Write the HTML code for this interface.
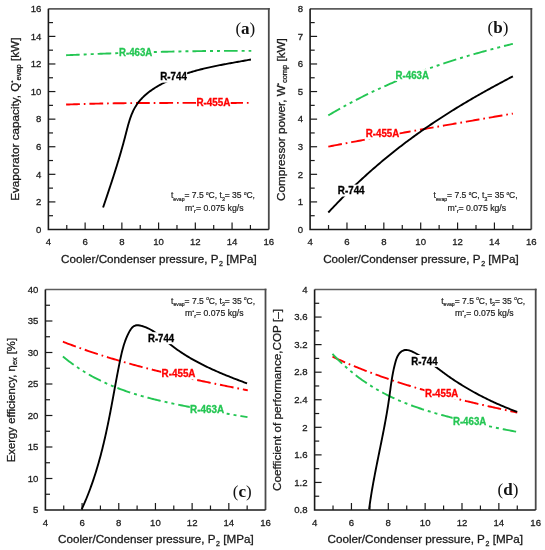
<!DOCTYPE html>
<html><head><meta charset="utf-8"><style>
html,body{margin:0;padding:0;background:#fff;}
body{width:545px;height:550px;overflow:hidden;}
svg{display:block;}
svg{will-change:transform;}
</style></head><body>
<svg width="545" height="550" viewBox="0 0 545 550">
<style>.t{stroke:#1a1a1a;stroke-width:0.28px;} .a{stroke:#222;stroke-width:0.2px;}</style>
<rect width="545" height="550" fill="#fff"/>
<line x1="48.40" y1="8.80" x2="269.70" y2="8.80" stroke="#5c5c5c" stroke-width="1.7"/>
<line x1="268.80" y1="8.00" x2="268.80" y2="229.50" stroke="#4a4a4a" stroke-width="1.8"/>
<path d="M48.40 8.80 V229.50 H268.80" fill="none" stroke="#1a1a1a" stroke-width="1.6"/>
<text transform="translate(48.40 245.30) scale(0.97 1)" text-anchor="middle" font-size="9.9" class="t" fill="#1a1a1a" font-family="'Liberation Sans', sans-serif">4</text>
<line x1="66.77" y1="229.50" x2="66.77" y2="225.00" stroke="#1a1a1a" stroke-width="1.2"/>
<line x1="85.13" y1="229.50" x2="85.13" y2="222.50" stroke="#1a1a1a" stroke-width="1.2"/>
<text transform="translate(85.13 245.30) scale(0.97 1)" text-anchor="middle" font-size="9.9" class="t" fill="#1a1a1a" font-family="'Liberation Sans', sans-serif">6</text>
<line x1="103.50" y1="229.50" x2="103.50" y2="225.00" stroke="#1a1a1a" stroke-width="1.2"/>
<line x1="121.87" y1="229.50" x2="121.87" y2="222.50" stroke="#1a1a1a" stroke-width="1.2"/>
<text transform="translate(121.87 245.30) scale(0.97 1)" text-anchor="middle" font-size="9.9" class="t" fill="#1a1a1a" font-family="'Liberation Sans', sans-serif">8</text>
<line x1="140.23" y1="229.50" x2="140.23" y2="225.00" stroke="#1a1a1a" stroke-width="1.2"/>
<line x1="158.60" y1="229.50" x2="158.60" y2="222.50" stroke="#1a1a1a" stroke-width="1.2"/>
<text transform="translate(158.60 245.30) scale(0.97 1)" text-anchor="middle" font-size="9.9" class="t" fill="#1a1a1a" font-family="'Liberation Sans', sans-serif">10</text>
<line x1="176.97" y1="229.50" x2="176.97" y2="225.00" stroke="#1a1a1a" stroke-width="1.2"/>
<line x1="195.33" y1="229.50" x2="195.33" y2="222.50" stroke="#1a1a1a" stroke-width="1.2"/>
<text transform="translate(195.33 245.30) scale(0.97 1)" text-anchor="middle" font-size="9.9" class="t" fill="#1a1a1a" font-family="'Liberation Sans', sans-serif">12</text>
<line x1="213.70" y1="229.50" x2="213.70" y2="225.00" stroke="#1a1a1a" stroke-width="1.2"/>
<line x1="232.07" y1="229.50" x2="232.07" y2="222.50" stroke="#1a1a1a" stroke-width="1.2"/>
<text transform="translate(232.07 245.30) scale(0.97 1)" text-anchor="middle" font-size="9.9" class="t" fill="#1a1a1a" font-family="'Liberation Sans', sans-serif">14</text>
<line x1="250.43" y1="229.50" x2="250.43" y2="225.00" stroke="#1a1a1a" stroke-width="1.2"/>
<text transform="translate(268.80 245.30) scale(0.97 1)" text-anchor="middle" font-size="9.9" class="t" fill="#1a1a1a" font-family="'Liberation Sans', sans-serif">16</text>
<text transform="translate(41.40 232.70) scale(0.97 1)" text-anchor="end" font-size="9.9" class="t" fill="#1a1a1a" font-family="'Liberation Sans', sans-serif">0</text>
<line x1="48.40" y1="215.71" x2="53.00" y2="215.71" stroke="#1a1a1a" stroke-width="1.2"/>
<line x1="48.40" y1="201.91" x2="55.40" y2="201.91" stroke="#1a1a1a" stroke-width="1.2"/>
<text transform="translate(41.40 205.11) scale(0.97 1)" text-anchor="end" font-size="9.9" class="t" fill="#1a1a1a" font-family="'Liberation Sans', sans-serif">2</text>
<line x1="48.40" y1="188.12" x2="53.00" y2="188.12" stroke="#1a1a1a" stroke-width="1.2"/>
<line x1="48.40" y1="174.32" x2="55.40" y2="174.32" stroke="#1a1a1a" stroke-width="1.2"/>
<text transform="translate(41.40 177.52) scale(0.97 1)" text-anchor="end" font-size="9.9" class="t" fill="#1a1a1a" font-family="'Liberation Sans', sans-serif">4</text>
<line x1="48.40" y1="160.53" x2="53.00" y2="160.53" stroke="#1a1a1a" stroke-width="1.2"/>
<line x1="48.40" y1="146.74" x2="55.40" y2="146.74" stroke="#1a1a1a" stroke-width="1.2"/>
<text transform="translate(41.40 149.94) scale(0.97 1)" text-anchor="end" font-size="9.9" class="t" fill="#1a1a1a" font-family="'Liberation Sans', sans-serif">6</text>
<line x1="48.40" y1="132.94" x2="53.00" y2="132.94" stroke="#1a1a1a" stroke-width="1.2"/>
<line x1="48.40" y1="119.15" x2="55.40" y2="119.15" stroke="#1a1a1a" stroke-width="1.2"/>
<text transform="translate(41.40 122.35) scale(0.97 1)" text-anchor="end" font-size="9.9" class="t" fill="#1a1a1a" font-family="'Liberation Sans', sans-serif">8</text>
<line x1="48.40" y1="105.36" x2="53.00" y2="105.36" stroke="#1a1a1a" stroke-width="1.2"/>
<line x1="48.40" y1="91.56" x2="55.40" y2="91.56" stroke="#1a1a1a" stroke-width="1.2"/>
<text transform="translate(41.40 94.76) scale(0.97 1)" text-anchor="end" font-size="9.9" class="t" fill="#1a1a1a" font-family="'Liberation Sans', sans-serif">10</text>
<line x1="48.40" y1="77.77" x2="53.00" y2="77.77" stroke="#1a1a1a" stroke-width="1.2"/>
<line x1="48.40" y1="63.98" x2="55.40" y2="63.98" stroke="#1a1a1a" stroke-width="1.2"/>
<text transform="translate(41.40 67.18) scale(0.97 1)" text-anchor="end" font-size="9.9" class="t" fill="#1a1a1a" font-family="'Liberation Sans', sans-serif">12</text>
<line x1="48.40" y1="50.18" x2="53.00" y2="50.18" stroke="#1a1a1a" stroke-width="1.2"/>
<line x1="48.40" y1="36.39" x2="55.40" y2="36.39" stroke="#1a1a1a" stroke-width="1.2"/>
<text transform="translate(41.40 39.59) scale(0.97 1)" text-anchor="end" font-size="9.9" class="t" fill="#1a1a1a" font-family="'Liberation Sans', sans-serif">14</text>
<line x1="48.40" y1="22.59" x2="53.00" y2="22.59" stroke="#1a1a1a" stroke-width="1.2"/>
<text transform="translate(41.40 12.00) scale(0.97 1)" text-anchor="end" font-size="9.9" class="t" fill="#1a1a1a" font-family="'Liberation Sans', sans-serif">16</text>
<line x1="310.10" y1="8.80" x2="532.20" y2="8.80" stroke="#5c5c5c" stroke-width="1.7"/>
<line x1="531.30" y1="8.00" x2="531.30" y2="229.50" stroke="#4a4a4a" stroke-width="1.8"/>
<path d="M310.10 8.80 V229.50 H531.30" fill="none" stroke="#1a1a1a" stroke-width="1.6"/>
<text transform="translate(310.10 245.30) scale(0.97 1)" text-anchor="middle" font-size="9.9" class="t" fill="#1a1a1a" font-family="'Liberation Sans', sans-serif">4</text>
<line x1="328.53" y1="229.50" x2="328.53" y2="225.00" stroke="#1a1a1a" stroke-width="1.2"/>
<line x1="346.97" y1="229.50" x2="346.97" y2="222.50" stroke="#1a1a1a" stroke-width="1.2"/>
<text transform="translate(346.97 245.30) scale(0.97 1)" text-anchor="middle" font-size="9.9" class="t" fill="#1a1a1a" font-family="'Liberation Sans', sans-serif">6</text>
<line x1="365.40" y1="229.50" x2="365.40" y2="225.00" stroke="#1a1a1a" stroke-width="1.2"/>
<line x1="383.83" y1="229.50" x2="383.83" y2="222.50" stroke="#1a1a1a" stroke-width="1.2"/>
<text transform="translate(383.83 245.30) scale(0.97 1)" text-anchor="middle" font-size="9.9" class="t" fill="#1a1a1a" font-family="'Liberation Sans', sans-serif">8</text>
<line x1="402.27" y1="229.50" x2="402.27" y2="225.00" stroke="#1a1a1a" stroke-width="1.2"/>
<line x1="420.70" y1="229.50" x2="420.70" y2="222.50" stroke="#1a1a1a" stroke-width="1.2"/>
<text transform="translate(420.70 245.30) scale(0.97 1)" text-anchor="middle" font-size="9.9" class="t" fill="#1a1a1a" font-family="'Liberation Sans', sans-serif">10</text>
<line x1="439.13" y1="229.50" x2="439.13" y2="225.00" stroke="#1a1a1a" stroke-width="1.2"/>
<line x1="457.57" y1="229.50" x2="457.57" y2="222.50" stroke="#1a1a1a" stroke-width="1.2"/>
<text transform="translate(457.57 245.30) scale(0.97 1)" text-anchor="middle" font-size="9.9" class="t" fill="#1a1a1a" font-family="'Liberation Sans', sans-serif">12</text>
<line x1="476.00" y1="229.50" x2="476.00" y2="225.00" stroke="#1a1a1a" stroke-width="1.2"/>
<line x1="494.43" y1="229.50" x2="494.43" y2="222.50" stroke="#1a1a1a" stroke-width="1.2"/>
<text transform="translate(494.43 245.30) scale(0.97 1)" text-anchor="middle" font-size="9.9" class="t" fill="#1a1a1a" font-family="'Liberation Sans', sans-serif">14</text>
<line x1="512.87" y1="229.50" x2="512.87" y2="225.00" stroke="#1a1a1a" stroke-width="1.2"/>
<text transform="translate(531.30 245.30) scale(0.97 1)" text-anchor="middle" font-size="9.9" class="t" fill="#1a1a1a" font-family="'Liberation Sans', sans-serif">16</text>
<text transform="translate(303.10 232.70) scale(0.97 1)" text-anchor="end" font-size="9.9" class="t" fill="#1a1a1a" font-family="'Liberation Sans', sans-serif">0</text>
<line x1="310.10" y1="215.71" x2="314.70" y2="215.71" stroke="#1a1a1a" stroke-width="1.2"/>
<line x1="310.10" y1="201.91" x2="317.10" y2="201.91" stroke="#1a1a1a" stroke-width="1.2"/>
<text transform="translate(303.10 205.11) scale(0.97 1)" text-anchor="end" font-size="9.9" class="t" fill="#1a1a1a" font-family="'Liberation Sans', sans-serif">1</text>
<line x1="310.10" y1="188.12" x2="314.70" y2="188.12" stroke="#1a1a1a" stroke-width="1.2"/>
<line x1="310.10" y1="174.32" x2="317.10" y2="174.32" stroke="#1a1a1a" stroke-width="1.2"/>
<text transform="translate(303.10 177.52) scale(0.97 1)" text-anchor="end" font-size="9.9" class="t" fill="#1a1a1a" font-family="'Liberation Sans', sans-serif">2</text>
<line x1="310.10" y1="160.53" x2="314.70" y2="160.53" stroke="#1a1a1a" stroke-width="1.2"/>
<line x1="310.10" y1="146.74" x2="317.10" y2="146.74" stroke="#1a1a1a" stroke-width="1.2"/>
<text transform="translate(303.10 149.94) scale(0.97 1)" text-anchor="end" font-size="9.9" class="t" fill="#1a1a1a" font-family="'Liberation Sans', sans-serif">3</text>
<line x1="310.10" y1="132.94" x2="314.70" y2="132.94" stroke="#1a1a1a" stroke-width="1.2"/>
<line x1="310.10" y1="119.15" x2="317.10" y2="119.15" stroke="#1a1a1a" stroke-width="1.2"/>
<text transform="translate(303.10 122.35) scale(0.97 1)" text-anchor="end" font-size="9.9" class="t" fill="#1a1a1a" font-family="'Liberation Sans', sans-serif">4</text>
<line x1="310.10" y1="105.36" x2="314.70" y2="105.36" stroke="#1a1a1a" stroke-width="1.2"/>
<line x1="310.10" y1="91.56" x2="317.10" y2="91.56" stroke="#1a1a1a" stroke-width="1.2"/>
<text transform="translate(303.10 94.76) scale(0.97 1)" text-anchor="end" font-size="9.9" class="t" fill="#1a1a1a" font-family="'Liberation Sans', sans-serif">5</text>
<line x1="310.10" y1="77.77" x2="314.70" y2="77.77" stroke="#1a1a1a" stroke-width="1.2"/>
<line x1="310.10" y1="63.98" x2="317.10" y2="63.98" stroke="#1a1a1a" stroke-width="1.2"/>
<text transform="translate(303.10 67.18) scale(0.97 1)" text-anchor="end" font-size="9.9" class="t" fill="#1a1a1a" font-family="'Liberation Sans', sans-serif">6</text>
<line x1="310.10" y1="50.18" x2="314.70" y2="50.18" stroke="#1a1a1a" stroke-width="1.2"/>
<line x1="310.10" y1="36.39" x2="317.10" y2="36.39" stroke="#1a1a1a" stroke-width="1.2"/>
<text transform="translate(303.10 39.59) scale(0.97 1)" text-anchor="end" font-size="9.9" class="t" fill="#1a1a1a" font-family="'Liberation Sans', sans-serif">7</text>
<line x1="310.10" y1="22.59" x2="314.70" y2="22.59" stroke="#1a1a1a" stroke-width="1.2"/>
<text transform="translate(303.10 12.00) scale(0.97 1)" text-anchor="end" font-size="9.9" class="t" fill="#1a1a1a" font-family="'Liberation Sans', sans-serif">8</text>
<line x1="45.40" y1="289.50" x2="266.40" y2="289.50" stroke="#5c5c5c" stroke-width="1.7"/>
<line x1="265.50" y1="288.70" x2="265.50" y2="510.00" stroke="#4a4a4a" stroke-width="1.8"/>
<path d="M45.40 289.50 V510.00 H265.50" fill="none" stroke="#1a1a1a" stroke-width="1.6"/>
<text transform="translate(45.40 525.80) scale(0.97 1)" text-anchor="middle" font-size="9.9" class="t" fill="#1a1a1a" font-family="'Liberation Sans', sans-serif">4</text>
<line x1="63.74" y1="510.00" x2="63.74" y2="505.50" stroke="#1a1a1a" stroke-width="1.2"/>
<line x1="82.08" y1="510.00" x2="82.08" y2="503.00" stroke="#1a1a1a" stroke-width="1.2"/>
<text transform="translate(82.08 525.80) scale(0.97 1)" text-anchor="middle" font-size="9.9" class="t" fill="#1a1a1a" font-family="'Liberation Sans', sans-serif">6</text>
<line x1="100.42" y1="510.00" x2="100.42" y2="505.50" stroke="#1a1a1a" stroke-width="1.2"/>
<line x1="118.77" y1="510.00" x2="118.77" y2="503.00" stroke="#1a1a1a" stroke-width="1.2"/>
<text transform="translate(118.77 525.80) scale(0.97 1)" text-anchor="middle" font-size="9.9" class="t" fill="#1a1a1a" font-family="'Liberation Sans', sans-serif">8</text>
<line x1="137.11" y1="510.00" x2="137.11" y2="505.50" stroke="#1a1a1a" stroke-width="1.2"/>
<line x1="155.45" y1="510.00" x2="155.45" y2="503.00" stroke="#1a1a1a" stroke-width="1.2"/>
<text transform="translate(155.45 525.80) scale(0.97 1)" text-anchor="middle" font-size="9.9" class="t" fill="#1a1a1a" font-family="'Liberation Sans', sans-serif">10</text>
<line x1="173.79" y1="510.00" x2="173.79" y2="505.50" stroke="#1a1a1a" stroke-width="1.2"/>
<line x1="192.13" y1="510.00" x2="192.13" y2="503.00" stroke="#1a1a1a" stroke-width="1.2"/>
<text transform="translate(192.13 525.80) scale(0.97 1)" text-anchor="middle" font-size="9.9" class="t" fill="#1a1a1a" font-family="'Liberation Sans', sans-serif">12</text>
<line x1="210.47" y1="510.00" x2="210.47" y2="505.50" stroke="#1a1a1a" stroke-width="1.2"/>
<line x1="228.82" y1="510.00" x2="228.82" y2="503.00" stroke="#1a1a1a" stroke-width="1.2"/>
<text transform="translate(228.82 525.80) scale(0.97 1)" text-anchor="middle" font-size="9.9" class="t" fill="#1a1a1a" font-family="'Liberation Sans', sans-serif">14</text>
<line x1="247.16" y1="510.00" x2="247.16" y2="505.50" stroke="#1a1a1a" stroke-width="1.2"/>
<text transform="translate(265.50 525.80) scale(0.97 1)" text-anchor="middle" font-size="9.9" class="t" fill="#1a1a1a" font-family="'Liberation Sans', sans-serif">16</text>
<text transform="translate(38.40 513.20) scale(0.97 1)" text-anchor="end" font-size="9.9" class="t" fill="#1a1a1a" font-family="'Liberation Sans', sans-serif">5</text>
<line x1="45.40" y1="494.25" x2="50.00" y2="494.25" stroke="#1a1a1a" stroke-width="1.2"/>
<line x1="45.40" y1="478.50" x2="52.40" y2="478.50" stroke="#1a1a1a" stroke-width="1.2"/>
<text transform="translate(38.40 481.70) scale(0.97 1)" text-anchor="end" font-size="9.9" class="t" fill="#1a1a1a" font-family="'Liberation Sans', sans-serif">10</text>
<line x1="45.40" y1="462.75" x2="50.00" y2="462.75" stroke="#1a1a1a" stroke-width="1.2"/>
<line x1="45.40" y1="447.00" x2="52.40" y2="447.00" stroke="#1a1a1a" stroke-width="1.2"/>
<text transform="translate(38.40 450.20) scale(0.97 1)" text-anchor="end" font-size="9.9" class="t" fill="#1a1a1a" font-family="'Liberation Sans', sans-serif">15</text>
<line x1="45.40" y1="431.25" x2="50.00" y2="431.25" stroke="#1a1a1a" stroke-width="1.2"/>
<line x1="45.40" y1="415.50" x2="52.40" y2="415.50" stroke="#1a1a1a" stroke-width="1.2"/>
<text transform="translate(38.40 418.70) scale(0.97 1)" text-anchor="end" font-size="9.9" class="t" fill="#1a1a1a" font-family="'Liberation Sans', sans-serif">20</text>
<line x1="45.40" y1="399.75" x2="50.00" y2="399.75" stroke="#1a1a1a" stroke-width="1.2"/>
<line x1="45.40" y1="384.00" x2="52.40" y2="384.00" stroke="#1a1a1a" stroke-width="1.2"/>
<text transform="translate(38.40 387.20) scale(0.97 1)" text-anchor="end" font-size="9.9" class="t" fill="#1a1a1a" font-family="'Liberation Sans', sans-serif">25</text>
<line x1="45.40" y1="368.25" x2="50.00" y2="368.25" stroke="#1a1a1a" stroke-width="1.2"/>
<line x1="45.40" y1="352.50" x2="52.40" y2="352.50" stroke="#1a1a1a" stroke-width="1.2"/>
<text transform="translate(38.40 355.70) scale(0.97 1)" text-anchor="end" font-size="9.9" class="t" fill="#1a1a1a" font-family="'Liberation Sans', sans-serif">30</text>
<line x1="45.40" y1="336.75" x2="50.00" y2="336.75" stroke="#1a1a1a" stroke-width="1.2"/>
<line x1="45.40" y1="321.00" x2="52.40" y2="321.00" stroke="#1a1a1a" stroke-width="1.2"/>
<text transform="translate(38.40 324.20) scale(0.97 1)" text-anchor="end" font-size="9.9" class="t" fill="#1a1a1a" font-family="'Liberation Sans', sans-serif">35</text>
<line x1="45.40" y1="305.25" x2="50.00" y2="305.25" stroke="#1a1a1a" stroke-width="1.2"/>
<text transform="translate(38.40 292.70) scale(0.97 1)" text-anchor="end" font-size="9.9" class="t" fill="#1a1a1a" font-family="'Liberation Sans', sans-serif">40</text>
<line x1="314.60" y1="289.50" x2="536.60" y2="289.50" stroke="#5c5c5c" stroke-width="1.7"/>
<line x1="535.70" y1="288.70" x2="535.70" y2="510.00" stroke="#4a4a4a" stroke-width="1.8"/>
<path d="M314.60 289.50 V510.00 H535.70" fill="none" stroke="#1a1a1a" stroke-width="1.6"/>
<text transform="translate(314.60 525.80) scale(0.97 1)" text-anchor="middle" font-size="9.9" class="t" fill="#1a1a1a" font-family="'Liberation Sans', sans-serif">4</text>
<line x1="333.03" y1="510.00" x2="333.03" y2="505.50" stroke="#1a1a1a" stroke-width="1.2"/>
<line x1="351.45" y1="510.00" x2="351.45" y2="503.00" stroke="#1a1a1a" stroke-width="1.2"/>
<text transform="translate(351.45 525.80) scale(0.97 1)" text-anchor="middle" font-size="9.9" class="t" fill="#1a1a1a" font-family="'Liberation Sans', sans-serif">6</text>
<line x1="369.88" y1="510.00" x2="369.88" y2="505.50" stroke="#1a1a1a" stroke-width="1.2"/>
<line x1="388.30" y1="510.00" x2="388.30" y2="503.00" stroke="#1a1a1a" stroke-width="1.2"/>
<text transform="translate(388.30 525.80) scale(0.97 1)" text-anchor="middle" font-size="9.9" class="t" fill="#1a1a1a" font-family="'Liberation Sans', sans-serif">8</text>
<line x1="406.73" y1="510.00" x2="406.73" y2="505.50" stroke="#1a1a1a" stroke-width="1.2"/>
<line x1="425.15" y1="510.00" x2="425.15" y2="503.00" stroke="#1a1a1a" stroke-width="1.2"/>
<text transform="translate(425.15 525.80) scale(0.97 1)" text-anchor="middle" font-size="9.9" class="t" fill="#1a1a1a" font-family="'Liberation Sans', sans-serif">10</text>
<line x1="443.58" y1="510.00" x2="443.58" y2="505.50" stroke="#1a1a1a" stroke-width="1.2"/>
<line x1="462.00" y1="510.00" x2="462.00" y2="503.00" stroke="#1a1a1a" stroke-width="1.2"/>
<text transform="translate(462.00 525.80) scale(0.97 1)" text-anchor="middle" font-size="9.9" class="t" fill="#1a1a1a" font-family="'Liberation Sans', sans-serif">12</text>
<line x1="480.43" y1="510.00" x2="480.43" y2="505.50" stroke="#1a1a1a" stroke-width="1.2"/>
<line x1="498.85" y1="510.00" x2="498.85" y2="503.00" stroke="#1a1a1a" stroke-width="1.2"/>
<text transform="translate(498.85 525.80) scale(0.97 1)" text-anchor="middle" font-size="9.9" class="t" fill="#1a1a1a" font-family="'Liberation Sans', sans-serif">14</text>
<line x1="517.28" y1="510.00" x2="517.28" y2="505.50" stroke="#1a1a1a" stroke-width="1.2"/>
<text transform="translate(535.70 525.80) scale(0.97 1)" text-anchor="middle" font-size="9.9" class="t" fill="#1a1a1a" font-family="'Liberation Sans', sans-serif">16</text>
<text transform="translate(307.60 513.20) scale(0.97 1)" text-anchor="end" font-size="9.9" class="t" fill="#1a1a1a" font-family="'Liberation Sans', sans-serif">0.8</text>
<line x1="314.60" y1="496.22" x2="319.20" y2="496.22" stroke="#1a1a1a" stroke-width="1.2"/>
<line x1="314.60" y1="482.44" x2="321.60" y2="482.44" stroke="#1a1a1a" stroke-width="1.2"/>
<text transform="translate(307.60 485.64) scale(0.97 1)" text-anchor="end" font-size="9.9" class="t" fill="#1a1a1a" font-family="'Liberation Sans', sans-serif">1.2</text>
<line x1="314.60" y1="468.66" x2="319.20" y2="468.66" stroke="#1a1a1a" stroke-width="1.2"/>
<line x1="314.60" y1="454.88" x2="321.60" y2="454.88" stroke="#1a1a1a" stroke-width="1.2"/>
<text transform="translate(307.60 458.07) scale(0.97 1)" text-anchor="end" font-size="9.9" class="t" fill="#1a1a1a" font-family="'Liberation Sans', sans-serif">1.6</text>
<line x1="314.60" y1="441.09" x2="319.20" y2="441.09" stroke="#1a1a1a" stroke-width="1.2"/>
<line x1="314.60" y1="427.31" x2="321.60" y2="427.31" stroke="#1a1a1a" stroke-width="1.2"/>
<text transform="translate(307.60 430.51) scale(0.97 1)" text-anchor="end" font-size="9.9" class="t" fill="#1a1a1a" font-family="'Liberation Sans', sans-serif">2</text>
<line x1="314.60" y1="413.53" x2="319.20" y2="413.53" stroke="#1a1a1a" stroke-width="1.2"/>
<line x1="314.60" y1="399.75" x2="321.60" y2="399.75" stroke="#1a1a1a" stroke-width="1.2"/>
<text transform="translate(307.60 402.95) scale(0.97 1)" text-anchor="end" font-size="9.9" class="t" fill="#1a1a1a" font-family="'Liberation Sans', sans-serif">2.4</text>
<line x1="314.60" y1="385.97" x2="319.20" y2="385.97" stroke="#1a1a1a" stroke-width="1.2"/>
<line x1="314.60" y1="372.19" x2="321.60" y2="372.19" stroke="#1a1a1a" stroke-width="1.2"/>
<text transform="translate(307.60 375.39) scale(0.97 1)" text-anchor="end" font-size="9.9" class="t" fill="#1a1a1a" font-family="'Liberation Sans', sans-serif">2.8</text>
<line x1="314.60" y1="358.41" x2="319.20" y2="358.41" stroke="#1a1a1a" stroke-width="1.2"/>
<line x1="314.60" y1="344.62" x2="321.60" y2="344.62" stroke="#1a1a1a" stroke-width="1.2"/>
<text transform="translate(307.60 347.82) scale(0.97 1)" text-anchor="end" font-size="9.9" class="t" fill="#1a1a1a" font-family="'Liberation Sans', sans-serif">3.2</text>
<line x1="314.60" y1="330.84" x2="319.20" y2="330.84" stroke="#1a1a1a" stroke-width="1.2"/>
<line x1="314.60" y1="317.06" x2="321.60" y2="317.06" stroke="#1a1a1a" stroke-width="1.2"/>
<text transform="translate(307.60 320.26) scale(0.97 1)" text-anchor="end" font-size="9.9" class="t" fill="#1a1a1a" font-family="'Liberation Sans', sans-serif">3.6</text>
<line x1="314.60" y1="303.28" x2="319.20" y2="303.28" stroke="#1a1a1a" stroke-width="1.2"/>
<text transform="translate(307.60 292.70) scale(0.97 1)" text-anchor="end" font-size="9.9" class="t" fill="#1a1a1a" font-family="'Liberation Sans', sans-serif">4</text>
<path d="M66.10 55.24 L67.66 55.17 L69.21 55.10 L70.77 55.03 L72.33 54.96 L73.88 54.90 L75.44 54.83 L76.99 54.76 L78.55 54.69 L80.11 54.62 L81.66 54.56 L83.22 54.49 L84.78 54.43 L86.33 54.36 L87.89 54.30 L89.44 54.23 L91.00 54.17 L92.56 54.11 L94.11 54.04 L95.67 53.98 L97.23 53.92 L98.78 53.86 L100.34 53.80 L101.89 53.73 L103.45 53.67 L105.01 53.62 L106.56 53.56 L108.12 53.50 L109.68 53.44 L111.23 53.38 L112.79 53.33 L114.35 53.27 L115.90 53.21 L117.46 53.16 L119.01 53.10 L120.57 53.05 L122.13 52.99 L123.68 52.94 L125.24 52.89 L126.80 52.84 L128.35 52.79 L129.91 52.73 L131.46 52.68 L133.02 52.63 L134.58 52.59 L136.13 52.54 L137.69 52.49 L139.25 52.44 L140.80 52.39 L142.36 52.35 L143.92 52.30 L145.47 52.26 L147.03 52.21 L148.58 52.17 L150.14 52.13 L151.70 52.08 L153.25 52.04 L154.81 52.00 L156.37 51.96 L157.92 51.92 L159.48 51.88 L161.03 51.84 L162.59 51.81 L164.15 51.77 L165.70 51.73 L167.26 51.70 L168.82 51.66 L170.37 51.63 L171.93 51.59 L173.48 51.56 L175.04 51.53 L176.60 51.50 L178.15 51.47 L179.71 51.44 L181.27 51.41 L182.82 51.38 L184.38 51.35 L185.94 51.32 L187.49 51.30 L189.05 51.27 L190.60 51.25 L192.16 51.22 L193.72 51.20 L195.27 51.18 L196.83 51.15 L198.39 51.13 L199.94 51.11 L201.50 51.09 L203.05 51.07 L204.61 51.06 L206.17 51.04 L207.72 51.02 L209.28 51.01 L210.84 50.99 L212.39 50.98 L213.95 50.97 L215.51 50.95 L217.06 50.94 L218.62 50.93 L220.17 50.92 L221.73 50.91 L223.29 50.90 L224.84 50.90 L226.40 50.89 L227.96 50.89 L229.51 50.88 L231.07 50.88 L232.62 50.88 L234.18 50.87 L235.74 50.87 L237.29 50.87 L238.85 50.87 L240.41 50.87 L241.96 50.88 L243.52 50.88 L245.07 50.88 L246.63 50.89 L248.19 50.90 L249.74 50.90 L251.30 50.91" fill="none" stroke="#24c653" stroke-width="1.90" stroke-linejoin="round" stroke-dasharray="13.6 4 3 4 3 4"/>
<path d="M66.10 104.56 L67.66 104.50 L69.21 104.44 L70.77 104.39 L72.33 104.33 L73.88 104.28 L75.44 104.23 L76.99 104.18 L78.55 104.13 L80.11 104.08 L81.66 104.03 L83.22 103.99 L84.78 103.94 L86.33 103.90 L87.89 103.86 L89.44 103.82 L91.00 103.78 L92.56 103.74 L94.11 103.70 L95.67 103.67 L97.23 103.63 L98.78 103.60 L100.34 103.57 L101.89 103.53 L103.45 103.50 L105.01 103.47 L106.56 103.45 L108.12 103.42 L109.68 103.39 L111.23 103.36 L112.79 103.34 L114.35 103.32 L115.90 103.29 L117.46 103.27 L119.01 103.25 L120.57 103.23 L122.13 103.21 L123.68 103.19 L125.24 103.17 L126.80 103.15 L128.35 103.14 L129.91 103.12 L131.46 103.11 L133.02 103.09 L134.58 103.08 L136.13 103.07 L137.69 103.05 L139.25 103.04 L140.80 103.03 L142.36 103.02 L143.92 103.01 L145.47 103.00 L147.03 102.99 L148.58 102.99 L150.14 102.98 L151.70 102.97 L153.25 102.96 L154.81 102.96 L156.37 102.95 L157.92 102.95 L159.48 102.94 L161.03 102.94 L162.59 102.94 L164.15 102.93 L165.70 102.93 L167.26 102.93 L168.82 102.92 L170.37 102.92 L171.93 102.92 L173.48 102.92 L175.04 102.92 L176.60 102.92 L178.15 102.92 L179.71 102.92 L181.27 102.92 L182.82 102.92 L184.38 102.92 L185.94 102.92 L187.49 102.92 L189.05 102.92 L190.60 102.92 L192.16 102.92 L193.72 102.92 L195.27 102.92 L196.83 102.93 L198.39 102.93 L199.94 102.93 L201.50 102.93 L203.05 102.93 L204.61 102.93 L206.17 102.93 L207.72 102.93 L209.28 102.94 L210.84 102.94 L212.39 102.94 L213.95 102.94 L215.51 102.94 L217.06 102.94 L218.62 102.94 L220.17 102.94 L221.73 102.94 L223.29 102.94 L224.84 102.94 L226.40 102.94 L227.96 102.94 L229.51 102.94 L231.07 102.93 L232.62 102.93 L234.18 102.93 L235.74 102.93 L237.29 102.92 L238.85 102.92 L240.41 102.92 L241.96 102.91 L243.52 102.91 L245.07 102.90 L246.63 102.90 L248.19 102.89 L249.74 102.88 L251.30 102.88" fill="none" stroke="#ff0000" stroke-width="1.90" stroke-linejoin="round" stroke-dasharray="13.8 3.9 1.7 3.9"/>
<path d="M103.08 207.52 L103.46 206.38 L103.85 205.25 L104.23 204.12 L104.61 202.98 L104.99 201.85 L105.37 200.73 L105.75 199.60 L106.13 198.48 L106.51 197.35 L106.89 196.23 L107.26 195.11 L107.64 193.99 L108.01 192.87 L108.38 191.75 L108.76 190.64 L109.13 189.52 L109.50 188.41 L109.87 187.29 L110.23 186.18 L110.60 185.07 L110.97 183.96 L111.33 182.84 L111.70 181.73 L112.06 180.62 L112.42 179.51 L112.78 178.40 L113.14 177.29 L113.50 176.18 L113.85 175.07 L114.21 173.96 L114.56 172.85 L114.91 171.74 L115.26 170.63 L115.61 169.51 L115.96 168.40 L116.31 167.29 L116.66 166.18 L117.00 165.06 L117.34 163.95 L117.68 162.83 L118.02 161.71 L118.36 160.60 L118.70 159.48 L119.04 158.36 L119.37 157.24 L119.70 156.11 L120.03 154.99 L120.36 153.86 L120.69 152.74 L121.02 151.61 L121.34 150.48 L121.66 149.35 L121.99 148.21 L122.30 147.08 L122.62 145.94 L122.94 144.80 L123.25 143.66 L123.57 142.51 L123.88 141.37 L124.19 140.22 L124.49 139.07 L124.80 137.91 L125.10 136.76 L125.40 135.60 L125.70 134.44 L126.00 133.27 L126.30 132.11 L126.60 130.94 L126.90 129.77 L127.20 128.61 L127.51 127.44 L127.82 126.28 L128.14 125.12 L128.46 123.97 L128.80 122.82 L129.14 121.67 L129.49 120.53 L129.85 119.40 L130.23 118.28 L130.62 117.16 L131.02 116.06 L131.44 114.96 L131.87 113.87 L132.33 112.80 L132.80 111.74 L133.29 110.69 L133.80 109.65 L134.33 108.63 L134.89 107.63 L135.47 106.64 L136.07 105.67 L136.70 104.71 L137.36 103.78 L138.03 102.85 L138.73 101.95 L139.45 101.06 L140.19 100.19 L140.96 99.33 L141.74 98.49 L142.54 97.66 L143.36 96.85 L144.20 96.05 L145.06 95.27 L145.93 94.50 L146.82 93.75 L147.72 93.01 L148.64 92.28 L149.57 91.57 L150.51 90.87 L151.47 90.18 L152.44 89.51 L153.42 88.85 L154.41 88.20 L155.42 87.56 L156.43 86.94 L157.45 86.33 L158.47 85.72 L159.51 85.13 L160.55 84.55 L161.59 83.98 L162.65 83.43 L163.70 82.88 L164.76 82.34 L165.83 81.81 L166.89 81.29 L167.97 80.78 L169.04 80.28 L170.12 79.79 L171.20 79.31 L172.28 78.84 L173.37 78.38 L174.46 77.92 L175.55 77.48 L176.65 77.04 L177.75 76.61 L178.85 76.19 L179.95 75.78 L181.06 75.37 L182.17 74.98 L183.28 74.59 L184.40 74.20 L185.51 73.83 L186.63 73.46 L187.75 73.10 L188.88 72.74 L190.00 72.40 L191.13 72.05 L192.26 71.72 L193.39 71.39 L194.52 71.07 L195.66 70.75 L196.80 70.44 L197.93 70.13 L199.07 69.83 L200.22 69.54 L201.36 69.25 L202.50 68.96 L203.65 68.68 L204.80 68.41 L205.94 68.14 L207.09 67.87 L208.24 67.61 L209.39 67.35 L210.55 67.09 L211.70 66.84 L212.85 66.60 L214.01 66.35 L215.16 66.11 L216.32 65.88 L217.48 65.64 L218.63 65.41 L219.79 65.18 L220.95 64.96 L222.10 64.73 L223.26 64.51 L224.42 64.29 L225.58 64.08 L226.74 63.86 L227.89 63.65 L229.05 63.44 L230.21 63.23 L231.37 63.02 L232.52 62.81 L233.68 62.60 L234.84 62.40 L235.99 62.19 L237.15 61.98 L238.30 61.78 L239.46 61.57 L240.61 61.37 L241.76 61.17 L242.91 60.96 L244.06 60.75 L245.21 60.55 L246.36 60.34 L247.50 60.13 L248.65 59.93 L249.79 59.72 L250.94 59.51" fill="none" stroke="#000" stroke-width="1.90" stroke-linejoin="round"/>
<path d="M328.30 115.41 L329.85 114.49 L331.40 113.58 L332.95 112.67 L334.51 111.77 L336.06 110.88 L337.61 110.00 L339.16 109.12 L340.71 108.25 L342.26 107.38 L343.81 106.52 L345.36 105.67 L346.92 104.83 L348.47 103.99 L350.02 103.16 L351.57 102.34 L353.12 101.52 L354.67 100.71 L356.22 99.90 L357.77 99.10 L359.33 98.31 L360.88 97.52 L362.43 96.74 L363.98 95.97 L365.53 95.20 L367.08 94.44 L368.63 93.69 L370.18 92.94 L371.74 92.19 L373.29 91.46 L374.84 90.72 L376.39 90.00 L377.94 89.28 L379.49 88.56 L381.04 87.86 L382.59 87.15 L384.15 86.45 L385.70 85.76 L387.25 85.08 L388.80 84.40 L390.35 83.72 L391.90 83.05 L393.45 82.39 L395.00 81.73 L396.56 81.07 L398.11 80.42 L399.66 79.78 L401.21 79.14 L402.76 78.51 L404.31 77.88 L405.86 77.26 L407.41 76.64 L408.97 76.03 L410.52 75.42 L412.07 74.81 L413.62 74.21 L415.17 73.62 L416.72 73.03 L418.27 72.45 L419.82 71.87 L421.38 71.29 L422.93 70.72 L424.48 70.15 L426.03 69.59 L427.58 69.03 L429.13 68.48 L430.68 67.93 L432.23 67.38 L433.79 66.84 L435.34 66.31 L436.89 65.77 L438.44 65.24 L439.99 64.72 L441.54 64.20 L443.09 63.68 L444.64 63.17 L446.20 62.66 L447.75 62.16 L449.30 61.65 L450.85 61.16 L452.40 60.66 L453.95 60.17 L455.50 59.69 L457.05 59.20 L458.61 58.72 L460.16 58.25 L461.71 57.78 L463.26 57.31 L464.81 56.84 L466.36 56.38 L467.91 55.92 L469.46 55.46 L471.02 55.01 L472.57 54.56 L474.12 54.11 L475.67 53.67 L477.22 53.23 L478.77 52.79 L480.32 52.35 L481.87 51.92 L483.43 51.49 L484.98 51.06 L486.53 50.64 L488.08 50.22 L489.63 49.80 L491.18 49.38 L492.73 48.97 L494.28 48.56 L495.84 48.15 L497.39 47.74 L498.94 47.34 L500.49 46.94 L502.04 46.54 L503.59 46.14 L505.14 45.75 L506.69 45.35 L508.25 44.96 L509.80 44.58 L511.35 44.19 L512.90 43.80" fill="none" stroke="#24c653" stroke-width="1.90" stroke-linejoin="round" stroke-dasharray="13.6 4 3 4 3 4"/>
<path d="M328.30 146.62 L329.85 146.32 L331.40 146.02 L332.95 145.72 L334.51 145.43 L336.06 145.13 L337.61 144.83 L339.16 144.54 L340.71 144.24 L342.26 143.95 L343.81 143.65 L345.36 143.36 L346.92 143.07 L348.47 142.78 L350.02 142.48 L351.57 142.19 L353.12 141.90 L354.67 141.61 L356.22 141.32 L357.77 141.03 L359.33 140.74 L360.88 140.45 L362.43 140.17 L363.98 139.88 L365.53 139.59 L367.08 139.31 L368.63 139.02 L370.18 138.73 L371.74 138.45 L373.29 138.16 L374.84 137.88 L376.39 137.60 L377.94 137.31 L379.49 137.03 L381.04 136.75 L382.59 136.46 L384.15 136.18 L385.70 135.90 L387.25 135.62 L388.80 135.34 L390.35 135.06 L391.90 134.78 L393.45 134.50 L395.00 134.22 L396.56 133.94 L398.11 133.66 L399.66 133.38 L401.21 133.10 L402.76 132.83 L404.31 132.55 L405.86 132.27 L407.41 132.00 L408.97 131.72 L410.52 131.44 L412.07 131.17 L413.62 130.89 L415.17 130.62 L416.72 130.34 L418.27 130.07 L419.82 129.79 L421.38 129.52 L422.93 129.24 L424.48 128.97 L426.03 128.70 L427.58 128.42 L429.13 128.15 L430.68 127.88 L432.23 127.60 L433.79 127.33 L435.34 127.06 L436.89 126.79 L438.44 126.52 L439.99 126.24 L441.54 125.97 L443.09 125.70 L444.64 125.43 L446.20 125.16 L447.75 124.89 L449.30 124.62 L450.85 124.35 L452.40 124.08 L453.95 123.81 L455.50 123.54 L457.05 123.27 L458.61 123.00 L460.16 122.73 L461.71 122.46 L463.26 122.19 L464.81 121.92 L466.36 121.65 L467.91 121.38 L469.46 121.11 L471.02 120.84 L472.57 120.57 L474.12 120.30 L475.67 120.03 L477.22 119.76 L478.77 119.49 L480.32 119.22 L481.87 118.96 L483.43 118.69 L484.98 118.42 L486.53 118.15 L488.08 117.88 L489.63 117.61 L491.18 117.34 L492.73 117.07 L494.28 116.80 L495.84 116.54 L497.39 116.27 L498.94 116.00 L500.49 115.73 L502.04 115.46 L503.59 115.19 L505.14 114.92 L506.69 114.65 L508.25 114.38 L509.80 114.11 L511.35 113.84 L512.90 113.57" fill="none" stroke="#ff0000" stroke-width="1.90" stroke-linejoin="round" stroke-dasharray="13.8 3.9 1.7 3.9"/>
<path d="M328.30 212.51 L329.85 210.84 L331.40 209.19 L332.95 207.54 L334.51 205.91 L336.06 204.30 L337.61 202.69 L339.16 201.09 L340.71 199.51 L342.26 197.94 L343.81 196.38 L345.36 194.83 L346.92 193.29 L348.47 191.76 L350.02 190.25 L351.57 188.74 L353.12 187.25 L354.67 185.77 L356.22 184.30 L357.77 182.83 L359.33 181.38 L360.88 179.94 L362.43 178.51 L363.98 177.09 L365.53 175.68 L367.08 174.28 L368.63 172.89 L370.18 171.51 L371.74 170.14 L373.29 168.79 L374.84 167.44 L376.39 166.10 L377.94 164.76 L379.49 163.44 L381.04 162.13 L382.59 160.83 L384.15 159.54 L385.70 158.25 L387.25 156.98 L388.80 155.71 L390.35 154.45 L391.90 153.21 L393.45 151.97 L395.00 150.74 L396.56 149.51 L398.11 148.30 L399.66 147.10 L401.21 145.90 L402.76 144.71 L404.31 143.53 L405.86 142.36 L407.41 141.19 L408.97 140.04 L410.52 138.89 L412.07 137.75 L413.62 136.61 L415.17 135.49 L416.72 134.37 L418.27 133.26 L419.82 132.16 L421.38 131.06 L422.93 129.97 L424.48 128.89 L426.03 127.82 L427.58 126.75 L429.13 125.69 L430.68 124.63 L432.23 123.59 L433.79 122.55 L435.34 121.51 L436.89 120.49 L438.44 119.46 L439.99 118.45 L441.54 117.44 L443.09 116.44 L444.64 115.44 L446.20 114.45 L447.75 113.47 L449.30 112.49 L450.85 111.51 L452.40 110.55 L453.95 109.58 L455.50 108.63 L457.05 107.68 L458.61 106.73 L460.16 105.79 L461.71 104.85 L463.26 103.92 L464.81 103.00 L466.36 102.08 L467.91 101.16 L469.46 100.25 L471.02 99.34 L472.57 98.44 L474.12 97.54 L475.67 96.65 L477.22 95.76 L478.77 94.88 L480.32 94.00 L481.87 93.12 L483.43 92.25 L484.98 91.38 L486.53 90.51 L488.08 89.65 L489.63 88.80 L491.18 87.94 L492.73 87.09 L494.28 86.24 L495.84 85.40 L497.39 84.56 L498.94 83.72 L500.49 82.89 L502.04 82.06 L503.59 81.23 L505.14 80.40 L506.69 79.58 L508.25 78.76 L509.80 77.94 L511.35 77.13 L512.90 76.32" fill="none" stroke="#000" stroke-width="1.90" stroke-linejoin="round"/>
<path d="M62.90 341.73 L64.45 342.33 L66.01 342.93 L67.56 343.52 L69.12 344.11 L70.67 344.69 L72.22 345.26 L73.78 345.84 L75.33 346.40 L76.88 346.97 L78.44 347.53 L79.99 348.08 L81.55 348.63 L83.10 349.18 L84.65 349.72 L86.21 350.25 L87.76 350.79 L89.31 351.31 L90.87 351.84 L92.42 352.36 L93.98 352.87 L95.53 353.39 L97.08 353.89 L98.64 354.40 L100.19 354.90 L101.74 355.39 L103.30 355.89 L104.85 356.38 L106.41 356.86 L107.96 357.34 L109.51 357.82 L111.07 358.29 L112.62 358.76 L114.17 359.23 L115.73 359.69 L117.28 360.15 L118.84 360.61 L120.39 361.06 L121.94 361.51 L123.50 361.96 L125.05 362.40 L126.61 362.84 L128.16 363.27 L129.71 363.71 L131.27 364.14 L132.82 364.56 L134.37 364.99 L135.93 365.41 L137.48 365.83 L139.04 366.24 L140.59 366.65 L142.14 367.06 L143.70 367.47 L145.25 367.87 L146.80 368.27 L148.36 368.67 L149.91 369.07 L151.47 369.46 L153.02 369.85 L154.57 370.24 L156.13 370.62 L157.68 371.00 L159.23 371.38 L160.79 371.76 L162.34 372.14 L163.90 372.51 L165.45 372.88 L167.00 373.25 L168.56 373.62 L170.11 373.98 L171.66 374.34 L173.22 374.70 L174.77 375.06 L176.33 375.42 L177.88 375.77 L179.43 376.12 L180.99 376.47 L182.54 376.82 L184.09 377.17 L185.65 377.51 L187.20 377.86 L188.76 378.20 L190.31 378.54 L191.86 378.88 L193.42 379.21 L194.97 379.55 L196.53 379.88 L198.08 380.22 L199.63 380.55 L201.19 380.88 L202.74 381.20 L204.29 381.53 L205.85 381.86 L207.40 382.18 L208.96 382.50 L210.51 382.83 L212.06 383.15 L213.62 383.47 L215.17 383.79 L216.72 384.11 L218.28 384.42 L219.83 384.74 L221.39 385.05 L222.94 385.37 L224.49 385.68 L226.05 386.00 L227.60 386.31 L229.15 386.62 L230.71 386.93 L232.26 387.24 L233.82 387.55 L235.37 387.86 L236.92 388.17 L238.48 388.48 L240.03 388.79 L241.58 389.10 L243.14 389.40 L244.69 389.71 L246.25 390.02 L247.80 390.33" fill="none" stroke="#ff0000" stroke-width="1.90" stroke-linejoin="round" stroke-dasharray="13.8 3.9 1.7 3.9"/>
<path d="M62.90 356.51 L64.45 357.78 L66.00 359.02 L67.55 360.23 L69.11 361.42 L70.66 362.59 L72.21 363.72 L73.76 364.84 L75.31 365.93 L76.86 366.99 L78.41 368.03 L79.96 369.06 L81.52 370.05 L83.07 371.03 L84.62 371.99 L86.17 372.92 L87.72 373.83 L89.27 374.73 L90.82 375.60 L92.37 376.46 L93.93 377.30 L95.48 378.12 L97.03 378.92 L98.58 379.70 L100.13 380.47 L101.68 381.22 L103.23 381.95 L104.78 382.67 L106.34 383.38 L107.89 384.06 L109.44 384.74 L110.99 385.40 L112.54 386.04 L114.09 386.67 L115.64 387.29 L117.19 387.90 L118.75 388.49 L120.30 389.07 L121.85 389.64 L123.40 390.20 L124.95 390.74 L126.50 391.28 L128.05 391.80 L129.60 392.32 L131.16 392.82 L132.71 393.32 L134.26 393.80 L135.81 394.28 L137.36 394.74 L138.91 395.20 L140.46 395.65 L142.01 396.09 L143.57 396.53 L145.12 396.96 L146.67 397.38 L148.22 397.79 L149.77 398.19 L151.32 398.59 L152.87 398.99 L154.42 399.37 L155.98 399.76 L157.53 400.13 L159.08 400.50 L160.63 400.87 L162.18 401.23 L163.73 401.58 L165.28 401.93 L166.83 402.28 L168.39 402.62 L169.94 402.96 L171.49 403.29 L173.04 403.62 L174.59 403.95 L176.14 404.27 L177.69 404.59 L179.24 404.91 L180.80 405.22 L182.35 405.53 L183.90 405.84 L185.45 406.14 L187.00 406.45 L188.55 406.75 L190.10 407.05 L191.65 407.34 L193.21 407.64 L194.76 407.93 L196.31 408.22 L197.86 408.51 L199.41 408.80 L200.96 409.09 L202.51 409.37 L204.06 409.65 L205.62 409.94 L207.17 410.22 L208.72 410.50 L210.27 410.77 L211.82 411.05 L213.37 411.33 L214.92 411.60 L216.47 411.87 L218.03 412.15 L219.58 412.42 L221.13 412.69 L222.68 412.96 L224.23 413.23 L225.78 413.50 L227.33 413.76 L228.88 414.03 L230.44 414.30 L231.99 414.56 L233.54 414.82 L235.09 415.08 L236.64 415.35 L238.19 415.61 L239.74 415.86 L241.29 416.12 L242.85 416.38 L244.40 416.63 L245.95 416.89 L247.50 417.14" fill="none" stroke="#24c653" stroke-width="1.90" stroke-linejoin="round" stroke-dasharray="13.6 4 3 4 3 4"/>
<path d="M81.67 509.41 L82.35 507.93 L83.01 506.45 L83.67 504.96 L84.32 503.48 L84.96 501.99 L85.59 500.49 L86.21 499.00 L86.82 497.50 L87.42 496.00 L88.02 494.49 L88.60 492.99 L89.18 491.48 L89.75 489.97 L90.31 488.46 L90.86 486.94 L91.41 485.42 L91.95 483.90 L92.48 482.38 L93.00 480.85 L93.51 479.33 L94.02 477.80 L94.52 476.27 L95.01 474.74 L95.50 473.20 L95.98 471.66 L96.45 470.12 L96.92 468.58 L97.38 467.04 L97.83 465.50 L98.28 463.95 L98.72 462.40 L99.16 460.85 L99.59 459.30 L100.01 457.75 L100.43 456.20 L100.84 454.64 L101.25 453.08 L101.65 451.52 L102.04 449.96 L102.43 448.40 L102.82 446.84 L103.20 445.28 L103.58 443.71 L103.95 442.14 L104.32 440.58 L104.68 439.01 L105.04 437.44 L105.39 435.87 L105.75 434.29 L106.09 432.72 L106.43 431.15 L106.77 429.57 L107.11 428.00 L107.44 426.42 L107.77 424.84 L108.10 423.26 L108.42 421.68 L108.74 420.10 L109.06 418.52 L109.37 416.94 L109.68 415.36 L109.99 413.78 L110.30 412.20 L110.60 410.61 L110.90 409.03 L111.20 407.45 L111.50 405.86 L111.80 404.28 L112.09 402.69 L112.39 401.11 L112.68 399.52 L112.97 397.94 L113.26 396.35 L113.55 394.76 L113.84 393.18 L114.13 391.59 L114.42 390.01 L114.71 388.42 L115.00 386.84 L115.29 385.25 L115.59 383.67 L115.88 382.08 L116.17 380.50 L116.47 378.91 L116.76 377.33 L117.06 375.74 L117.36 374.16 L117.66 372.58 L117.97 370.99 L118.27 369.41 L118.58 367.83 L118.89 366.25 L119.21 364.67 L119.53 363.09 L119.85 361.51 L120.17 359.93 L120.50 358.35 L120.84 356.78 L121.19 355.20 L121.55 353.63 L121.92 352.06 L122.31 350.50 L122.72 348.94 L123.15 347.38 L123.60 345.83 L124.08 344.28 L124.59 342.74 L125.12 341.20 L125.69 339.67 L126.29 338.15 L126.93 336.63 L127.61 335.12 L128.34 333.62 L129.10 332.13 L129.92 330.66 L130.80 329.27 L131.76 328.01 L132.82 326.92 L134.00 326.07 L135.30 325.51 L136.73 325.26 L138.25 325.26 L139.83 325.46 L141.43 325.82 L143.01 326.28 L144.55 326.80 L146.05 327.39 L147.53 328.03 L148.97 328.74 L150.38 329.49 L151.77 330.29 L153.13 331.13 L154.48 332.01 L155.80 332.93 L157.11 333.88 L158.40 334.85 L159.68 335.84 L160.95 336.86 L162.21 337.88 L163.47 338.92 L164.73 339.96 L165.98 341.00 L167.24 342.04 L168.50 343.07 L169.77 344.09 L171.05 345.10 L172.34 346.09 L173.63 347.07 L174.94 348.03 L176.25 348.98 L177.57 349.91 L178.89 350.83 L180.23 351.74 L181.57 352.64 L182.92 353.52 L184.28 354.39 L185.64 355.25 L187.02 356.09 L188.39 356.93 L189.78 357.75 L191.17 358.56 L192.57 359.36 L193.97 360.15 L195.38 360.93 L196.79 361.70 L198.21 362.45 L199.64 363.20 L201.07 363.94 L202.51 364.67 L203.95 365.39 L205.39 366.10 L206.84 366.80 L208.29 367.50 L209.75 368.18 L211.21 368.86 L212.68 369.53 L214.15 370.20 L215.62 370.85 L217.10 371.50 L218.58 372.15 L220.06 372.78 L221.55 373.41 L223.03 374.04 L224.52 374.65 L226.02 375.27 L227.51 375.87 L229.01 376.48 L230.51 377.07 L232.01 377.67 L233.51 378.26 L235.01 378.84 L236.51 379.42 L238.02 380.00 L239.53 380.58 L241.03 381.15 L242.54 381.72 L244.04 382.29 L245.55 382.85 L247.06 383.41" fill="none" stroke="#000" stroke-width="1.90" stroke-linejoin="round"/>
<path d="M332.50 356.73 L334.05 357.45 L335.61 358.16 L337.16 358.86 L338.71 359.55 L340.26 360.24 L341.82 360.93 L343.37 361.60 L344.92 362.28 L346.48 362.94 L348.03 363.60 L349.58 364.26 L351.14 364.91 L352.69 365.55 L354.24 366.19 L355.79 366.83 L357.35 367.46 L358.90 368.08 L360.45 368.70 L362.01 369.31 L363.56 369.92 L365.11 370.52 L366.66 371.12 L368.22 371.71 L369.77 372.30 L371.32 372.88 L372.88 373.46 L374.43 374.03 L375.98 374.60 L377.54 375.16 L379.09 375.72 L380.64 376.28 L382.19 376.82 L383.75 377.37 L385.30 377.91 L386.85 378.45 L388.41 378.98 L389.96 379.51 L391.51 380.03 L393.06 380.55 L394.62 381.06 L396.17 381.57 L397.72 382.08 L399.28 382.58 L400.83 383.08 L402.38 383.58 L403.94 384.07 L405.49 384.55 L407.04 385.04 L408.59 385.52 L410.15 385.99 L411.70 386.46 L413.25 386.93 L414.81 387.40 L416.36 387.86 L417.91 388.32 L419.46 388.77 L421.02 389.22 L422.57 389.67 L424.12 390.11 L425.68 390.56 L427.23 390.99 L428.78 391.43 L430.34 391.86 L431.89 392.29 L433.44 392.71 L434.99 393.14 L436.55 393.56 L438.10 393.97 L439.65 394.39 L441.21 394.80 L442.76 395.21 L444.31 395.62 L445.86 396.02 L447.42 396.42 L448.97 396.82 L450.52 397.21 L452.08 397.61 L453.63 398.00 L455.18 398.39 L456.74 398.78 L458.29 399.16 L459.84 399.54 L461.39 399.92 L462.95 400.30 L464.50 400.68 L466.05 401.05 L467.61 401.42 L469.16 401.79 L470.71 402.16 L472.26 402.53 L473.82 402.89 L475.37 403.25 L476.92 403.62 L478.48 403.98 L480.03 404.33 L481.58 404.69 L483.14 405.05 L484.69 405.40 L486.24 405.75 L487.79 406.10 L489.35 406.45 L490.90 406.80 L492.45 407.15 L494.01 407.50 L495.56 407.84 L497.11 408.19 L498.66 408.53 L500.22 408.87 L501.77 409.21 L503.32 409.55 L504.88 409.89 L506.43 410.23 L507.98 410.57 L509.54 410.91 L511.09 411.25 L512.64 411.58 L514.19 411.92 L515.75 412.26 L517.30 412.59" fill="none" stroke="#ff0000" stroke-width="1.90" stroke-linejoin="round" stroke-dasharray="13.8 3.9 1.7 3.9"/>
<path d="M332.50 353.93 L334.05 355.58 L335.61 357.20 L337.16 358.78 L338.71 360.32 L340.26 361.84 L341.82 363.32 L343.37 364.77 L344.92 366.19 L346.48 367.58 L348.03 368.93 L349.58 370.26 L351.14 371.56 L352.69 372.84 L354.24 374.08 L355.79 375.30 L357.35 376.49 L358.90 377.65 L360.45 378.79 L362.01 379.91 L363.56 381.00 L365.11 382.07 L366.66 383.11 L368.22 384.14 L369.77 385.14 L371.32 386.12 L372.88 387.07 L374.43 388.01 L375.98 388.93 L377.54 389.82 L379.09 390.70 L380.64 391.56 L382.19 392.40 L383.75 393.23 L385.30 394.03 L386.85 394.82 L388.41 395.60 L389.96 396.35 L391.51 397.10 L393.06 397.82 L394.62 398.54 L396.17 399.23 L397.72 399.92 L399.28 400.59 L400.83 401.25 L402.38 401.89 L403.94 402.52 L405.49 403.14 L407.04 403.75 L408.59 404.35 L410.15 404.94 L411.70 405.51 L413.25 406.08 L414.81 406.64 L416.36 407.18 L417.91 407.72 L419.46 408.25 L421.02 408.77 L422.57 409.28 L424.12 409.78 L425.68 410.27 L427.23 410.76 L428.78 411.24 L430.34 411.71 L431.89 412.18 L433.44 412.64 L434.99 413.09 L436.55 413.54 L438.10 413.98 L439.65 414.42 L441.21 414.85 L442.76 415.27 L444.31 415.69 L445.86 416.11 L447.42 416.52 L448.97 416.92 L450.52 417.33 L452.08 417.72 L453.63 418.12 L455.18 418.51 L456.74 418.89 L458.29 419.28 L459.84 419.66 L461.39 420.03 L462.95 420.40 L464.50 420.77 L466.05 421.14 L467.61 421.50 L469.16 421.87 L470.71 422.22 L472.26 422.58 L473.82 422.93 L475.37 423.28 L476.92 423.63 L478.48 423.98 L480.03 424.32 L481.58 424.66 L483.14 425.00 L484.69 425.34 L486.24 425.68 L487.79 426.01 L489.35 426.34 L490.90 426.67 L492.45 426.99 L494.01 427.32 L495.56 427.64 L497.11 427.96 L498.66 428.28 L500.22 428.59 L501.77 428.91 L503.32 429.22 L504.88 429.52 L506.43 429.83 L507.98 430.13 L509.54 430.43 L511.09 430.73 L512.64 431.02 L514.19 431.31 L515.75 431.60 L517.30 431.89" fill="none" stroke="#24c653" stroke-width="1.90" stroke-linejoin="round" stroke-dasharray="13.6 4 3 4 3 4"/>
<path d="M369.10 509.42 L369.28 507.96 L369.48 506.50 L369.68 505.04 L369.88 503.58 L370.09 502.13 L370.31 500.67 L370.53 499.21 L370.75 497.75 L370.98 496.29 L371.21 494.83 L371.45 493.37 L371.69 491.91 L371.93 490.45 L372.18 488.99 L372.44 487.53 L372.69 486.07 L372.95 484.61 L373.21 483.15 L373.48 481.69 L373.75 480.23 L374.02 478.77 L374.29 477.31 L374.57 475.85 L374.84 474.39 L375.12 472.93 L375.41 471.47 L375.69 470.01 L375.98 468.54 L376.27 467.08 L376.56 465.62 L376.85 464.16 L377.14 462.70 L377.43 461.24 L377.73 459.78 L378.02 458.32 L378.32 456.86 L378.61 455.40 L378.91 453.94 L379.21 452.48 L379.50 451.02 L379.80 449.56 L380.10 448.10 L380.39 446.64 L380.69 445.18 L380.99 443.72 L381.28 442.26 L381.57 440.80 L381.87 439.34 L382.16 437.88 L382.45 436.42 L382.74 434.96 L383.03 433.50 L383.31 432.04 L383.60 430.59 L383.88 429.13 L384.16 427.67 L384.44 426.21 L384.71 424.75 L384.98 423.29 L385.25 421.84 L385.52 420.38 L385.78 418.92 L386.05 417.47 L386.30 416.01 L386.56 414.55 L386.81 413.10 L387.06 411.64 L387.30 410.18 L387.54 408.73 L387.78 407.27 L388.01 405.82 L388.23 404.36 L388.46 402.91 L388.67 401.45 L388.89 400.00 L389.10 398.55 L389.30 397.09 L389.50 395.64 L389.70 394.18 L389.90 392.73 L390.09 391.27 L390.29 389.82 L390.49 388.36 L390.69 386.90 L390.90 385.44 L391.11 383.98 L391.33 382.51 L391.55 381.04 L391.78 379.57 L392.02 378.10 L392.27 376.62 L392.54 375.14 L392.81 373.66 L393.10 372.17 L393.40 370.68 L393.71 369.18 L394.04 367.68 L394.39 366.18 L394.76 364.67 L395.15 363.15 L395.56 361.64 L396.01 360.15 L396.52 358.69 L397.09 357.28 L397.74 355.94 L398.48 354.67 L399.33 353.51 L400.29 352.45 L401.37 351.53 L402.55 350.79 L403.79 350.26 L405.07 349.99 L406.39 349.93 L407.74 350.07 L409.11 350.38 L410.49 350.83 L411.88 351.40 L413.26 352.05 L414.64 352.77 L416.01 353.52 L417.35 354.29 L418.67 355.07 L419.98 355.87 L421.27 356.67 L422.54 357.49 L423.80 358.32 L425.05 359.15 L426.28 360.00 L427.50 360.85 L428.71 361.71 L429.91 362.57 L431.10 363.44 L432.29 364.32 L433.47 365.19 L434.65 366.07 L435.82 366.96 L436.99 367.84 L438.16 368.72 L439.33 369.60 L440.50 370.48 L441.67 371.36 L442.85 372.23 L444.03 373.10 L445.22 373.96 L446.41 374.82 L447.61 375.67 L448.81 376.52 L450.02 377.36 L451.24 378.20 L452.46 379.03 L453.69 379.85 L454.92 380.67 L456.16 381.48 L457.41 382.29 L458.66 383.09 L459.91 383.88 L461.17 384.67 L462.44 385.45 L463.71 386.23 L464.98 387.00 L466.26 387.76 L467.54 388.52 L468.83 389.27 L470.12 390.01 L471.42 390.75 L472.72 391.48 L474.03 392.21 L475.33 392.92 L476.65 393.64 L477.96 394.34 L479.28 395.04 L480.60 395.74 L481.93 396.42 L483.26 397.10 L484.59 397.77 L485.92 398.44 L487.26 399.10 L488.60 399.75 L489.94 400.40 L491.29 401.04 L492.64 401.67 L493.99 402.30 L495.34 402.92 L496.69 403.53 L498.05 404.13 L499.41 404.73 L500.77 405.32 L502.13 405.91 L503.49 406.48 L504.85 407.05 L506.22 407.61 L507.59 408.17 L508.95 408.72 L510.32 409.26 L511.69 409.79 L513.06 410.32 L514.43 410.84 L515.80 411.35 L517.17 411.85" fill="none" stroke="#000" stroke-width="1.90" stroke-linejoin="round"/>
<rect x="118.80" y="45.90" width="33.80" height="11.90" fill="#fff"/>
<text x="119.10" y="55.50" font-size="10.1" font-weight="bold" fill="#24c653" stroke="#24c653" stroke-width="0.3" textLength="33.20" lengthAdjust="spacingAndGlyphs" font-family="'Liberation Sans', sans-serif">R-463A</text>
<rect x="196.10" y="96.60" width="34.60" height="11.90" fill="#fff"/>
<text x="196.40" y="106.20" font-size="10.1" font-weight="bold" fill="#ff0000" stroke="#ff0000" stroke-width="0.3" textLength="34.00" lengthAdjust="spacingAndGlyphs" font-family="'Liberation Sans', sans-serif">R-455A</text>
<rect x="160.00" y="70.70" width="27.10" height="11.90" fill="#fff"/>
<text x="160.30" y="80.30" font-size="10.1" font-weight="bold" fill="#000" stroke="#000" stroke-width="0.3" textLength="26.50" lengthAdjust="spacingAndGlyphs" font-family="'Liberation Sans', sans-serif">R-744</text>
<rect x="395.30" y="69.10" width="34.00" height="11.90" fill="#fff"/>
<text x="395.60" y="78.70" font-size="10.1" font-weight="bold" fill="#24c653" stroke="#24c653" stroke-width="0.3" textLength="33.40" lengthAdjust="spacingAndGlyphs" font-family="'Liberation Sans', sans-serif">R-463A</text>
<rect x="365.50" y="127.80" width="34.10" height="11.90" fill="#fff"/>
<text x="365.80" y="137.40" font-size="10.1" font-weight="bold" fill="#ff0000" stroke="#ff0000" stroke-width="0.3" textLength="33.50" lengthAdjust="spacingAndGlyphs" font-family="'Liberation Sans', sans-serif">R-455A</text>
<rect x="337.50" y="184.60" width="27.40" height="11.90" fill="#fff"/>
<text x="337.80" y="194.20" font-size="10.1" font-weight="bold" fill="#000" stroke="#000" stroke-width="0.3" textLength="26.80" lengthAdjust="spacingAndGlyphs" font-family="'Liberation Sans', sans-serif">R-744</text>
<rect x="147.70" y="332.20" width="26.70" height="11.90" fill="#fff"/>
<text x="148.00" y="341.80" font-size="10.1" font-weight="bold" fill="#000" stroke="#000" stroke-width="0.3" textLength="26.10" lengthAdjust="spacingAndGlyphs" font-family="'Liberation Sans', sans-serif">R-744</text>
<rect x="161.20" y="367.60" width="34.60" height="11.90" fill="#fff"/>
<text x="161.50" y="377.20" font-size="10.1" font-weight="bold" fill="#ff0000" stroke="#ff0000" stroke-width="0.3" textLength="34.00" lengthAdjust="spacingAndGlyphs" font-family="'Liberation Sans', sans-serif">R-455A</text>
<rect x="189.80" y="403.40" width="34.60" height="11.90" fill="#fff"/>
<text x="190.10" y="413.00" font-size="10.1" font-weight="bold" fill="#24c653" stroke="#24c653" stroke-width="0.3" textLength="34.00" lengthAdjust="spacingAndGlyphs" font-family="'Liberation Sans', sans-serif">R-463A</text>
<rect x="411.00" y="355.00" width="26.80" height="11.90" fill="#fff"/>
<text x="411.30" y="364.60" font-size="10.1" font-weight="bold" fill="#000" stroke="#000" stroke-width="0.3" textLength="26.20" lengthAdjust="spacingAndGlyphs" font-family="'Liberation Sans', sans-serif">R-744</text>
<rect x="424.60" y="387.40" width="34.00" height="11.90" fill="#fff"/>
<text x="424.90" y="397.00" font-size="10.1" font-weight="bold" fill="#ff0000" stroke="#ff0000" stroke-width="0.3" textLength="33.40" lengthAdjust="spacingAndGlyphs" font-family="'Liberation Sans', sans-serif">R-455A</text>
<rect x="452.60" y="414.90" width="34.00" height="11.90" fill="#fff"/>
<text x="452.90" y="424.50" font-size="10.1" font-weight="bold" fill="#24c653" stroke="#24c653" stroke-width="0.3" textLength="33.40" lengthAdjust="spacingAndGlyphs" font-family="'Liberation Sans', sans-serif">R-463A</text>
<text x="235.40" y="33.60" font-size="17" fill="#111" font-family="'Liberation Serif', serif">(<tspan font-weight="bold">a</tspan>)</text>
<text x="487.50" y="33.20" font-size="17" fill="#111" font-family="'Liberation Serif', serif">(<tspan font-weight="bold">b</tspan>)</text>
<text x="232.80" y="497.00" font-size="17" fill="#111" font-family="'Liberation Serif', serif">(<tspan font-weight="bold">c</tspan>)</text>
<text x="497.60" y="494.60" font-size="17" fill="#111" font-family="'Liberation Serif', serif">(<tspan font-weight="bold">d</tspan>)</text>
<text x="213.00" y="198.20" font-size="8.6" font-family="'Liberation Sans', sans-serif" fill="#222" class="a" text-anchor="middle" textLength="84" lengthAdjust="spacingAndGlyphs">t<tspan font-size="5.2" dy="2.4">evap</tspan><tspan dy="-2.4">= 7.5 </tspan><tspan font-size="4.6" dy="-3.4">o</tspan><tspan dy="3.4">C, t</tspan><tspan font-size="5.2" dy="2.4">3</tspan><tspan dy="-2.4">= 35 </tspan><tspan font-size="4.6" dy="-3.4">o</tspan><tspan dy="3.4">C,</tspan></text>
<text x="214.20" y="211.40" font-size="8.6" font-family="'Liberation Sans', sans-serif" fill="#222" class="a" text-anchor="middle" textLength="58.6" lengthAdjust="spacingAndGlyphs">m<tspan font-size="5.5" dy="-3">•</tspan><tspan font-size="5.5" dy="5">r</tspan><tspan dy="-2">= 0.075 kg/s</tspan></text>
<text x="475.60" y="198.20" font-size="8.6" font-family="'Liberation Sans', sans-serif" fill="#222" class="a" text-anchor="middle" textLength="84" lengthAdjust="spacingAndGlyphs">t<tspan font-size="5.2" dy="2.4">evap</tspan><tspan dy="-2.4">= 7.5 </tspan><tspan font-size="4.6" dy="-3.4">o</tspan><tspan dy="3.4">C, t</tspan><tspan font-size="5.2" dy="2.4">3</tspan><tspan dy="-2.4">= 35 </tspan><tspan font-size="4.6" dy="-3.4">o</tspan><tspan dy="3.4">C,</tspan></text>
<text x="476.80" y="211.40" font-size="8.6" font-family="'Liberation Sans', sans-serif" fill="#222" class="a" text-anchor="middle" textLength="58.6" lengthAdjust="spacingAndGlyphs">m<tspan font-size="5.5" dy="-3">•</tspan><tspan font-size="5.5" dy="5">r</tspan><tspan dy="-2">= 0.075 kg/s</tspan></text>
<text x="213.10" y="303.80" font-size="8.6" font-family="'Liberation Sans', sans-serif" fill="#222" class="a" text-anchor="middle" textLength="84" lengthAdjust="spacingAndGlyphs">t<tspan font-size="5.2" dy="2.4">evap</tspan><tspan dy="-2.4">= 7.5 </tspan><tspan font-size="4.6" dy="-3.4">o</tspan><tspan dy="3.4">C, t</tspan><tspan font-size="5.2" dy="2.4">3</tspan><tspan dy="-2.4">= 35 </tspan><tspan font-size="4.6" dy="-3.4">o</tspan><tspan dy="3.4">C,</tspan></text>
<text x="214.30" y="316.30" font-size="8.6" font-family="'Liberation Sans', sans-serif" fill="#222" class="a" text-anchor="middle" textLength="58.6" lengthAdjust="spacingAndGlyphs">m<tspan font-size="5.5" dy="-3">•</tspan><tspan font-size="5.5" dy="5">r</tspan><tspan dy="-2">= 0.075 kg/s</tspan></text>
<text x="483.20" y="303.80" font-size="8.6" font-family="'Liberation Sans', sans-serif" fill="#222" class="a" text-anchor="middle" textLength="84" lengthAdjust="spacingAndGlyphs">t<tspan font-size="5.2" dy="2.4">evap</tspan><tspan dy="-2.4">= 7.5 </tspan><tspan font-size="4.6" dy="-3.4">o</tspan><tspan dy="3.4">C, t</tspan><tspan font-size="5.2" dy="2.4">3</tspan><tspan dy="-2.4">= 35 </tspan><tspan font-size="4.6" dy="-3.4">o</tspan><tspan dy="3.4">C,</tspan></text>
<text x="484.40" y="316.30" font-size="8.6" font-family="'Liberation Sans', sans-serif" fill="#222" class="a" text-anchor="middle" textLength="58.6" lengthAdjust="spacingAndGlyphs">m<tspan font-size="5.5" dy="-3">•</tspan><tspan font-size="5.5" dy="5">r</tspan><tspan dy="-2">= 0.075 kg/s</tspan></text>
<text x="158.90" y="262.80" font-size="11" class="t" fill="#1a1a1a" text-anchor="middle" font-family="'Liberation Sans', sans-serif" textLength="195.6" lengthAdjust="spacingAndGlyphs">Cooler/Condenser pressure, P<tspan font-size="6.6" dx="0.6" dy="3">2</tspan><tspan dy="-3"> [MPa]</tspan></text>
<text x="421.00" y="262.80" font-size="11" class="t" fill="#1a1a1a" text-anchor="middle" font-family="'Liberation Sans', sans-serif" textLength="195.6" lengthAdjust="spacingAndGlyphs">Cooler/Condenser pressure, P<tspan font-size="6.6" dx="0.6" dy="3">2</tspan><tspan dy="-3"> [MPa]</tspan></text>
<text x="155.90" y="542.90" font-size="11" class="t" fill="#1a1a1a" text-anchor="middle" font-family="'Liberation Sans', sans-serif" textLength="195.6" lengthAdjust="spacingAndGlyphs">Cooler/Condenser pressure, P<tspan font-size="6.6" dx="0.6" dy="3">2</tspan><tspan dy="-3"> [MPa]</tspan></text>
<text x="425.30" y="542.90" font-size="11" class="t" fill="#1a1a1a" text-anchor="middle" font-family="'Liberation Sans', sans-serif" textLength="195.6" lengthAdjust="spacingAndGlyphs">Cooler/Condenser pressure, P<tspan font-size="6.6" dx="0.6" dy="3">2</tspan><tspan dy="-3"> [MPa]</tspan></text>
<text transform="translate(18.50 119.20) rotate(-90)" x="0" y="0" font-size="11" class="t" fill="#1a1a1a" text-anchor="middle" font-family="'Liberation Sans', sans-serif" textLength="163.2" lengthAdjust="spacingAndGlyphs">Evaporator capacity, Q<tspan font-size="6" dy="-5">•</tspan><tspan font-size="7" dy="7">evap</tspan><tspan dy="-2"> [kW]</tspan></text>
<text transform="translate(285.40 119.60) rotate(-90)" x="0" y="0" font-size="11" class="t" fill="#1a1a1a" text-anchor="middle" font-family="'Liberation Sans', sans-serif" textLength="162.8" lengthAdjust="spacingAndGlyphs">Compressor power, W<tspan font-size="6" dy="-5">•</tspan><tspan font-size="7" dy="7">comp</tspan><tspan dy="-2"> [kW]</tspan></text>
<text transform="translate(15.20 400.10) rotate(-90)" x="0" y="0" font-size="11" class="t" fill="#1a1a1a" text-anchor="middle" font-family="'Liberation Sans', sans-serif" textLength="124.3" lengthAdjust="spacingAndGlyphs">Exergy efficiency, η<tspan font-size="7" dy="2">ex</tspan><tspan dy="-2"> [%]</tspan></text>
<text transform="translate(281.10 400.00) rotate(-90)" x="0" y="0" font-size="11" class="t" fill="#1a1a1a" text-anchor="middle" font-family="'Liberation Sans', sans-serif" textLength="182.0" lengthAdjust="spacingAndGlyphs">Coefficient of performance,COP [–]</text>
</svg>
</body></html>
